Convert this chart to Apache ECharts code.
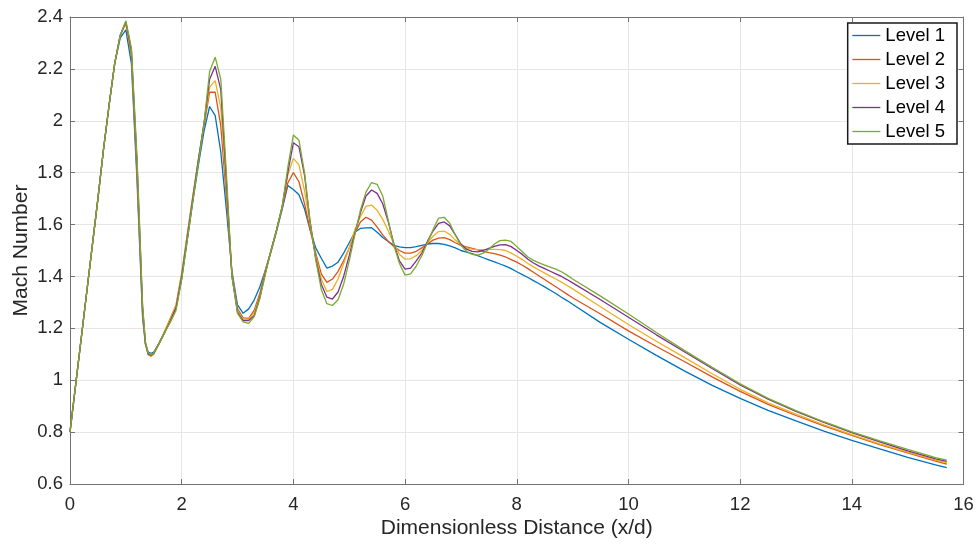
<!DOCTYPE html>
<html>
<head>
<meta charset="utf-8">
<script src="https://cdn.jsdelivr.net/npm/echarts@6/dist/echarts.min.js"></script>
<style>
  html, body { margin: 0; padding: 0; background: #fff; }
  #chart { width: 977px; height: 544px; }
</style>
</head>
<body>
<div id="chart"></div>
<script>
// Streamwise positions (x/d) shared by every refinement level
const xs = [0,0.1,0.2,0.3,0.4,0.5,0.6,0.7,0.8,0.9,1.0,1.1,1.2,1.3,1.35,1.4,1.45,
  1.5,1.6,1.7,1.8,1.9,2.0,2.1,2.2,2.3,2.4,
  2.5,2.6,2.7,2.8,2.9,3.0,3.1,3.2,3.3,3.4,
  3.5,3.6,3.7,3.8,3.9,4.0,4.1,4.2,4.3,4.4,
  4.5,4.6,4.7,4.8,4.9,5.0,5.1,5.2,5.3,5.4,
  5.5,5.6,5.7,5.8,5.9,6.0,6.1,6.2,6.3,6.4,
  6.5,6.6,6.7,6.8,6.9,7.0,7.1,7.2,7.3,7.4,
  7.5,7.6,7.7,7.8,7.9,8.0,8.1,8.2,8.3,8.4,
  8.5,8.6,8.7,8.8,8.9,9.0,
  9.5,10,10.5,11,11.5,12,12.5,13,13.5,14,14.5,15,15.5,15.7];

// Centreline Mach number for each grid level
const level1 = [0.80,0.98,1.16,1.34,1.52,1.70,1.89,2.06,2.22,2.32,2.35,2.22,1.77,1.24,1.14,1.108,1.104,
  1.108,1.145,1.19,1.235,1.28,1.39,1.54,1.69,1.83,1.96,
  2.055,2.02,1.88,1.66,1.42,1.29,1.258,1.275,1.31,1.36,
  1.425,1.495,1.575,1.66,1.75,1.735,1.715,1.66,1.58,1.51,
  1.47,1.432,1.44,1.455,1.49,1.53,1.57,1.585,1.587,1.588,
  1.57,1.55,1.535,1.52,1.514,1.511,1.511,1.515,1.52,1.525,
  1.527,1.527,1.524,1.518,1.51,1.50,1.494,1.488,1.48,1.472,
  1.464,1.456,1.448,1.44,1.43,1.418,1.407,1.396,1.384,1.372,
  1.36,1.347,1.334,1.32,1.307,1.293,
  1.222,1.158,1.096,1.036,0.98,0.93,0.884,0.843,0.804,0.768,0.735,0.703,0.674,0.663];

const level2 = [0.80,0.98,1.16,1.34,1.52,1.70,1.89,2.06,2.22,2.33,2.375,2.25,1.80,1.26,1.14,1.102,1.098,
  1.105,1.145,1.19,1.24,1.29,1.41,1.56,1.71,1.85,1.98,
  2.11,2.11,1.98,1.71,1.41,1.275,1.24,1.238,1.27,1.335,
  1.425,1.50,1.58,1.665,1.76,1.80,1.765,1.68,1.58,1.49,
  1.41,1.377,1.39,1.42,1.46,1.51,1.565,1.61,1.628,1.617,
  1.59,1.56,1.535,1.515,1.50,1.49,1.49,1.497,1.51,1.525,
  1.54,1.548,1.55,1.542,1.53,1.52,1.514,1.508,1.502,1.497,
  1.492,1.488,1.482,1.475,1.465,1.455,1.443,1.43,1.416,1.402,
  1.388,1.374,1.36,1.346,1.332,1.318,
  1.255,1.19,1.13,1.072,1.013,0.957,0.907,0.864,0.824,0.787,0.752,0.72,0.688,0.677];

const level3 = [0.80,0.98,1.16,1.34,1.52,1.70,1.89,2.06,2.22,2.33,2.38,2.26,1.82,1.27,1.14,1.098,1.092,
  1.10,1.143,1.19,1.24,1.29,1.41,1.56,1.71,1.85,1.99,
  2.13,2.155,2.05,1.74,1.405,1.268,1.235,1.235,1.26,1.325,
  1.42,1.50,1.58,1.67,1.79,1.855,1.83,1.73,1.60,1.48,
  1.39,1.342,1.35,1.39,1.45,1.51,1.58,1.63,1.67,1.675,
  1.655,1.62,1.575,1.525,1.485,1.467,1.468,1.48,1.50,1.53,
  1.555,1.573,1.575,1.562,1.54,1.522,1.51,1.505,1.503,1.503,
  1.504,1.504,1.503,1.50,1.49,1.478,1.465,1.45,1.437,1.425,
  1.413,1.401,1.39,1.378,1.365,1.352,
  1.283,1.215,1.15,1.088,1.025,0.965,0.913,0.869,0.828,0.79,0.755,0.723,0.692,0.682];

const level4 = [0.80,0.98,1.16,1.34,1.52,1.70,1.89,2.06,2.22,2.33,2.382,2.27,1.84,1.28,1.145,1.10,1.095,
  1.103,1.143,1.185,1.23,1.28,1.40,1.55,1.70,1.85,1.99,
  2.16,2.21,2.12,1.77,1.40,1.262,1.23,1.23,1.25,1.32,
  1.415,1.50,1.58,1.67,1.80,1.915,1.90,1.79,1.61,1.47,
  1.37,1.32,1.313,1.34,1.40,1.48,1.565,1.645,1.71,1.733,
  1.72,1.68,1.61,1.525,1.46,1.428,1.432,1.46,1.49,1.535,
  1.575,1.605,1.61,1.595,1.56,1.525,1.505,1.497,1.495,1.50,
  1.508,1.516,1.522,1.523,1.515,1.50,1.485,1.466,1.452,1.44,
  1.43,1.42,1.41,1.40,1.388,1.375,
  1.31,1.243,1.175,1.11,1.045,0.982,0.927,0.88,0.837,0.798,0.762,0.728,0.697,0.687];

const level5 = [0.80,0.98,1.16,1.34,1.52,1.70,1.89,2.06,2.22,2.33,2.385,2.28,1.86,1.29,1.15,1.105,1.097,
  1.105,1.143,1.185,1.225,1.27,1.39,1.54,1.69,1.84,1.99,
  2.19,2.245,2.16,1.80,1.40,1.258,1.225,1.219,1.245,1.315,
  1.41,1.50,1.58,1.67,1.82,1.945,1.925,1.80,1.61,1.465,
  1.35,1.295,1.288,1.31,1.37,1.46,1.56,1.655,1.725,1.762,
  1.755,1.71,1.615,1.52,1.45,1.405,1.41,1.44,1.48,1.53,
  1.58,1.625,1.628,1.605,1.56,1.52,1.497,1.485,1.482,1.49,
  1.505,1.525,1.538,1.54,1.535,1.515,1.495,1.475,1.462,1.452,
  1.444,1.436,1.428,1.418,1.405,1.39,
  1.324,1.255,1.184,1.115,1.05,0.986,0.93,0.883,0.84,0.801,0.766,0.733,0.702,0.692];

const levelNames = ['Level 1', 'Level 2', 'Level 3', 'Level 4', 'Level 5'];
const levelValues = [level1, level2, level3, level4, level5];
const levelColors = ['#0072BD', '#D95319', '#EDB120', '#7E2F8E', '#77AC30'];

const FONT = '"Liberation Sans", Arial, Helvetica, sans-serif';
const AXIS_COLOR = '#737373';
const TEXT_COLOR = '#262626';

const series = levelNames.map((name, i) => ({
  name: name,
  type: 'line',
  data: xs.map((x, k) => [x, levelValues[i][k]]),
  symbol: 'none',
  smooth: false,
  lineStyle: { width: 1.3, color: levelColors[i] },
  itemStyle: { color: levelColors[i] },
  z: 3 + i
}));

const baseX = { type: 'value', min: 0, max: 16, interval: 2 };
const baseY = { type: 'value', min: 0.6, max: 2.4, interval: 0.2 };
const tick = { show: true, inside: true, length: 5, lineStyle: { color: AXIS_COLOR, width: 1 } };
const line = { show: true, onZero: false, lineStyle: { color: AXIS_COLOR, width: 1 } };
const grid = { show: true, lineStyle: { color: '#e6e6e6', width: 1 } };

const chart = echarts.init(document.getElementById('chart'), null, { renderer: 'canvas' });
chart.setOption({
  animation: false,
  backgroundColor: '#ffffff',
  textStyle: { fontFamily: FONT },
  grid: { left: 70, right: 13.5, top: 17, bottom: 60, containLabel: false },
  legend: {
    data: levelNames,
    orient: 'vertical',
    right: 20,
    top: 23,
    backgroundColor: '#ffffff',
    borderColor: '#1a1a1a',
    borderWidth: 1.5,
    borderRadius: 0,
    padding: [3, 12, 3, 4],
    itemGap: 5,
    itemWidth: 28,
    itemHeight: 18,
    itemStyle: { opacity: 0 },
    lineStyle: { width: 1.3 },
    textStyle: { fontFamily: FONT, fontSize: 18.5, color: '#000000' }
  },
  xAxis: [
    Object.assign({}, baseX, {
      position: 'bottom',
      name: 'Dimensionless Distance (x/d)',
      nameLocation: 'middle',
      nameGap: 34,
      nameMoveOverlap: false,
      nameTextStyle: { fontFamily: FONT, fontSize: 21, color: TEXT_COLOR },
      axisLine: line,
      axisTick: tick,
      axisLabel: { fontFamily: FONT, fontSize: 18.5, color: TEXT_COLOR, margin: 11 },
      splitLine: grid
    }),
    Object.assign({}, baseX, {
      position: 'top',
      axisLine: line,
      axisTick: tick,
      axisLabel: { show: false },
      splitLine: { show: false }
    })
  ],
  yAxis: [
    Object.assign({}, baseY, {
      position: 'left',
      name: 'Mach Number',
      nameLocation: 'middle',
      nameGap: 38,
      nameMoveOverlap: false,
      nameRotate: 90,
      nameTextStyle: { fontFamily: FONT, fontSize: 21, color: TEXT_COLOR },
      axisLine: line,
      axisTick: tick,
      axisLabel: { fontFamily: FONT, fontSize: 18.5, color: TEXT_COLOR, margin: 7 },
      splitLine: grid
    }),
    Object.assign({}, baseY, {
      position: 'right',
      axisLine: line,
      axisTick: tick,
      axisLabel: { show: false },
      splitLine: { show: false }
    })
  ],
  series: series
});
</script>
</body>
</html>
